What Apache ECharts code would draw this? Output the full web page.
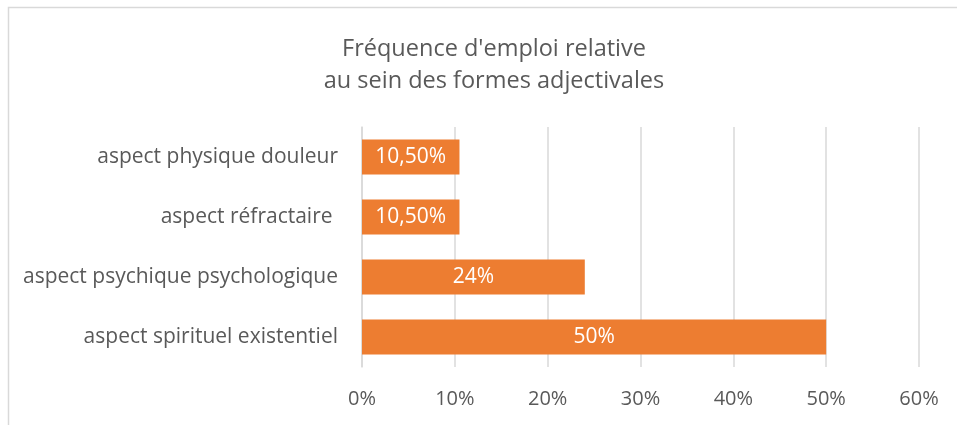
<!DOCTYPE html>
<html><head><meta charset="utf-8">
<script src="https://cdn.jsdelivr.net/npm/echarts@6/dist/echarts.min.js"></script>
<style>html,body{margin:0;padding:0;background:#fff}#c{width:957px;height:425px}</style>
</head><body><div id="c"></div>
<script>
const categories = ['aspect spirituel existentiel', 'aspect psychique psychologique', 'aspect réfractaire ', 'aspect physique douleur'];
const values = [50, 24, 10.5, 10.5];
const xTicks = [0, 10, 20, 30, 40, 50, 60];
const titleLines = ["Fréquence d'emploi relative", "au sein des formes adjectivales"];

function fmt(v) {
  return (Number.isInteger(v) ? String(v) : v.toFixed(2).replace('.', ',')) + '%';
}
const FONT = 'Open Sans';
const chart = echarts.init(document.getElementById('c'));
chart.setOption({
  animation: false,
  graphic: [{
    type: 'rect', shape: { x: 8.5, y: 7.5, width: 2000, height: 2000 },
    style: { fill: 'none', stroke: '#d9d9d9', lineWidth: 1.5 }, silent: true
  }],
  title: {
    text: titleLines.join('\n'), left: 489, top: 28, textAlign: 'center',
    textStyle: { fontFamily: FONT, fontSize: 23.5, fontWeight: 'normal', color: '#595959', lineHeight: 32 }
  },
  grid: { left: 362, right: 38, top: 127, bottom: 58, containLabel: false },
  xAxis: {
    type: 'value', min: 0, max: 60, interval: 10,
    axisLine: { show: false }, axisTick: { show: false },
    splitLine: { lineStyle: { color: '#d9d9d9', width: 1.5 } },
    axisLabel: { formatter: v => v + '%', fontFamily: FONT, fontSize: 20, color: '#595959', margin: 22 }
  },
  yAxis: {
    type: 'category', data: categories,
    axisLine: { show: true, lineStyle: { color: '#d9d9d9', width: 1.5 } },
    axisTick: { show: false },
    axisLabel: { fontFamily: FONT, fontSize: 21, color: '#595959', margin: 24 }
  },
  series: [{
    type: 'bar', data: values, barCategoryGap: '42%',
    itemStyle: { color: '#ED7D31' },
    label: { show: true, position: 'inside', formatter: p => fmt(p.value), color: '#fff', fontFamily: FONT, fontSize: 21 }
  }]
});
</script></body></html>
